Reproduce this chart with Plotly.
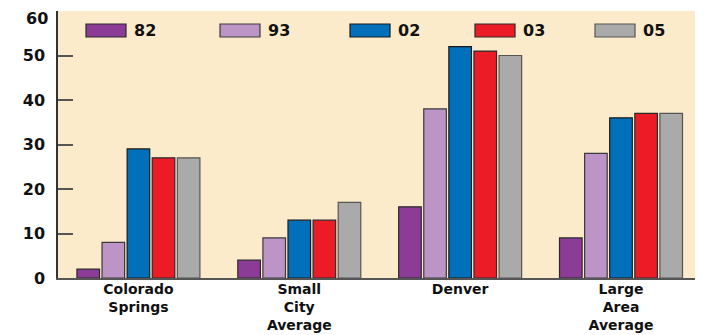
import plotly.graph_objects as go

categories = ["Colorado<br>Springs", "Small<br>City<br>Average", "Denver", "Large<br>Area<br>Average"]
series_names = ["82", "93", "02", "03", "05"]
v82 = [2, 4, 16, 9]
v93 = [8, 9, 38, 28]
v02 = [29, 13, 52, 36]
v03 = [27, 13, 51, 37]
v05 = [27, 17, 50, 37]
y_ticks = [0, 10, 20, 30, 40, 50, 60]

series_values = [v82, v93, v02, v03, v05]
colors = ["#8C3C96", "#BC94C6", "#0070BB", "#EC1C27", "#AAAAAB"]
outlines = ["#2a2a2a", "#3a3a3a", "#1a1a1a", "#2a2a2a", "#555555"]

# page body has an 8px margin; compensate so the figure lands where the reference is
OFF = 8
W, H = 709 - OFF, 335 - OFF
ml, mr, mt, mb = 58 - OFF, 14, 11 - OFF, 57
pw, ph = W - ml - mr, H - mt - mb

fig = go.Figure()
for name, vals, c, oc in zip(series_names, series_values, colors, outlines):
    fig.add_trace(go.Bar(x=categories, y=vals, name=name, marker=dict(color=c, line=dict(color=oc, width=1.2)),
                         showlegend=False))

font = dict(family="DejaVu Sans", size=16, color="#111111", weight="bold")

# manual legend with wide swatches (screen px positions)
leg_x = [86, 220, 350, 475, 595]
shapes = []
annotations = []
for px, name, c, oc in zip(leg_x, series_names, colors, outlines):
    x0 = (px - 58) / pw
    x1 = (px + 40 - 58) / pw
    y0 = (278 - 37) / ph
    y1 = (278 - 24) / ph
    shapes.append(dict(type="rect", xref="paper", yref="paper", x0=x0, x1=x1, y0=y0, y1=y1,
                       fillcolor=c, line=dict(color=oc, width=1.2)))
    annotations.append(dict(xref="paper", yref="paper", x=(px + 46 - 58) / pw, y=(278 - 30.5) / ph,
                            text=name, showarrow=False, xanchor="left", yanchor="middle", font=font))

# top tick label (would be clipped at figure edge as a regular tick label)
top_tick = y_ticks[-1]
annotations.append(dict(xref="paper", yref="paper", x=0, xshift=-9, y=(ph + mt) / ph, yanchor="top",
                        xanchor="right", text=str(top_tick), showarrow=False, font=font, borderpad=0))
ticktext = [str(t) for t in y_ticks[:-1]] + [""]

fig.update_layout(
    width=W, height=H,
    margin=dict(l=ml, r=mr, t=mt, b=mb, autoexpand=False),
    paper_bgcolor="white",
    plot_bgcolor="#FBEBCA",
    barmode="group",
    bargap=0.22,
    bargroupgap=0.1,
    shapes=shapes,
    annotations=annotations,
    font=font,
)
fig.update_xaxes(range=[-0.5, 3.46], showline=True, linecolor="#555555", linewidth=2, automargin=False,
                 ticks="", ticklabelstandoff=-3,
                 tickfont=dict(family="DejaVu Sans", size=14, color="#111111", weight="bold"),
                 showgrid=False)
fig.update_yaxes(range=[0, 60], tickvals=y_ticks, ticktext=ticktext, showline=True, linecolor="#333333",
                 linewidth=1.5, ticks="inside", ticklen=15, tickcolor="#555555", tickwidth=1.5,
                 automargin=False, showgrid=False, zeroline=False, ticklabelstandoff=8,
                 tickfont=dict(family="DejaVu Sans", size=16, color="#111111", weight="bold"))

fig.write_html("out.html")
